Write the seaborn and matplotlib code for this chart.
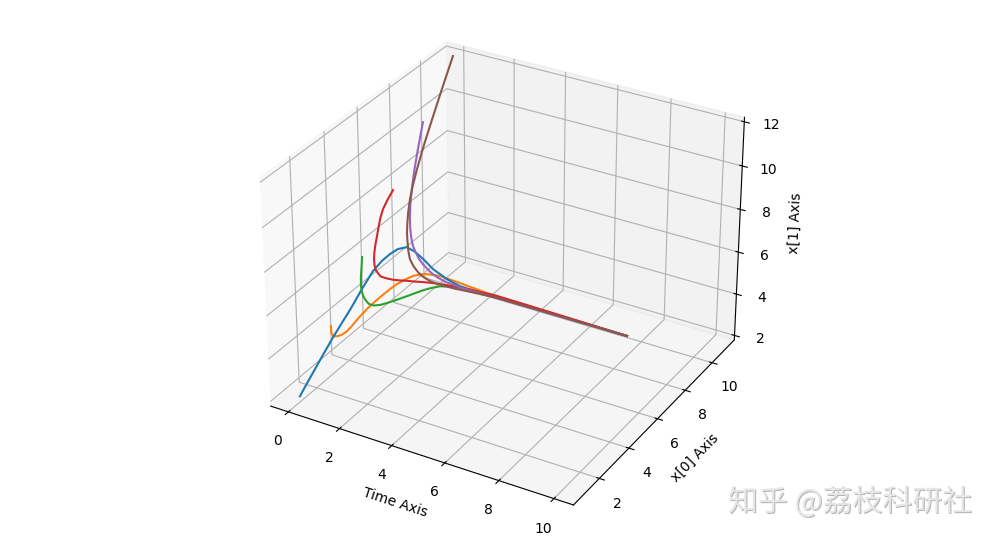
"""Time evolution of x[0] and x[1] from six starting points, as a 3D line plot."""

import matplotlib
matplotlib.use("Agg")
import matplotlib.pyplot as plt
import seaborn as sns

time = [0, .1, .2, .3, .4, .5, .6, .7, .8, .9, 1, 1.2, 1.4, 1.6, 1.8, 2, 2.25, 2.5, 2.75, 3, 3.5, 4, 5, 6, 8, 10]

blue_x0 = [1.00, 1.16, 1.32, 1.50, 1.70, 1.92, 2.12, 2.27, 2.41, 2.55, 2.70, 3.09, 3.47,
           3.71, 3.90, 4.06, 4.22, 4.30, 4.45, 4.62, 4.67, 4.64, 4.71, 4.84, 4.98, 5.04]
blue_x1 = [2.05, 2.41, 2.76, 3.12, 3.50, 3.88, 4.25, 4.56, 4.87, 5.16, 5.47, 6.20, 6.86,
           7.25, 7.52, 7.72, 7.80, 7.64, 7.27, 6.81, 6.49, 6.37, 6.26, 6.19, 6.07, 6.01]
orange_x0 = [2.97, 2.83, 2.80, 2.86, 2.91, 2.96, 3.02, 3.10, 3.18, 3.26, 3.35, 3.49, 3.63,
             3.75, 3.87, 3.97, 4.08, 4.17, 4.22, 4.24, 4.24, 4.43, 4.90, 5.00, 5.06, 5.04]
orange_x1 = [4.09, 3.90, 3.79, 3.79, 3.84, 3.92, 4.04, 4.21, 4.40, 4.60, 4.78, 5.11, 5.40,
             5.67, 5.93, 6.16, 6.39, 6.59, 6.72, 6.81, 6.90, 6.70, 6.19, 6.09, 6.01, 6.01]
green_x0 = [4.97, 4.77, 4.56, 4.40, 4.29, 4.21, 4.16, 4.13, 4.11, 4.12, 4.14, 4.19, 4.27,
            4.36, 4.47, 4.57, 4.69, 4.80, 4.92, 5.04, 5.29, 5.55, 5.75, 5.68, 5.41, 5.04]
green_x1 = [6.10, 5.78, 5.45, 5.19, 5.02, 4.92, 4.83, 4.75, 4.70, 4.68, 4.69, 4.76, 4.87,
            4.98, 5.10, 5.22, 5.38, 5.54, 5.66, 5.75, 5.75, 5.60, 5.42, 5.48, 5.70, 6.01]
red_x0 = [6.99, 6.48, 6.03, 5.69, 5.41, 5.15, 4.89, 4.66, 4.47, 4.34, 4.26, 4.22, 4.29,
          4.37, 4.47, 4.57, 4.69, 4.81, 4.91, 4.99, 5.12, 5.19, 5.25, 5.25, 5.18, 5.04]
red_x1 = [8.05, 7.93, 7.79, 7.59, 7.36, 7.14, 6.95, 6.77, 6.59, 6.42, 6.26, 6.08, 6.01,
          5.97, 5.95, 5.94, 5.92, 5.91, 5.90, 5.89, 5.87, 5.88, 5.91, 5.90, 5.93, 6.01]
purple_x0 = [8.97, 8.46, 8.05, 7.71, 7.43, 7.23, 7.08, 6.96, 6.86, 6.78, 6.72, 6.64, 6.57,
             6.48, 6.37, 6.26, 6.14, 6.01, 5.88, 5.76, 5.56, 5.40, 5.23, 5.19, 5.14, 5.04]
purple_x1 = [10.11, 9.17, 8.46, 7.83, 7.22, 6.76, 6.41, 6.14, 5.94, 5.80, 5.67, 5.43, 5.28,
             5.22, 5.19, 5.19, 5.21, 5.26, 5.33, 5.41, 5.54, 5.67, 5.83, 5.86, 5.91, 6.01]
brown_x0 = [10.98, 10.07, 9.26, 8.52, 7.90, 7.45, 7.10, 6.81, 6.58, 6.39, 6.25, 5.98, 5.75,
            5.66, 5.61, 5.51, 5.39, 5.28, 5.22, 5.18, 5.14, 5.11, 5.07, 5.09, 5.10, 5.04]
brown_x1 = [12.11, 11.09, 10.19, 9.37, 8.65, 8.16, 7.77, 7.35, 6.97, 6.68, 6.46, 6.19, 6.02,
            5.80, 5.63, 5.60, 5.62, 5.65, 5.68, 5.71, 5.76, 5.84, 5.96, 5.96, 5.96, 6.01]

series = [
    (blue_x0, blue_x1, 2),
    (orange_x0, orange_x1, 1),
    (green_x0, green_x1, 3),
    (red_x0, red_x1, 4),
    (purple_x0, purple_x1, 5),
    (brown_x0, brown_x1, 6),
]
colors = sns.color_palette("tab10", 6)

fig = plt.figure(figsize=(9.98, 5.39), dpi=100)
ax = fig.add_axes([0.0005, 0, 1, 1], projection="3d", computed_zorder=False)

for (x0, x1, order), color in zip(series, colors):
    ax.plot(time, x0, x1, color=color, zorder=order)

ax.set_xlim(-0.7, 10.7)
ax.set_ylim(0.3, 11.7)
ax.set_zlim(1.78, 12.2)
ax.set_xlabel("Time Axis")
ax.set_ylabel("x[0] Axis")
ax.set_zlabel("x[1] Axis")

# embossed watermark: grey shadow under a pale fill
mark = "知乎 @荔枝科研社"
mark_font = ["Noto Sans CJK SC", "DejaVu Sans"]
fig.text(0.7305, 0.0495, mark, family=mark_font, fontsize=21.5, color="#b4b4b4")
fig.text(0.7295, 0.0515, mark, family=mark_font, fontsize=21.5, color="#e6e6e6")

fig.savefig("out.png", dpi=100)
